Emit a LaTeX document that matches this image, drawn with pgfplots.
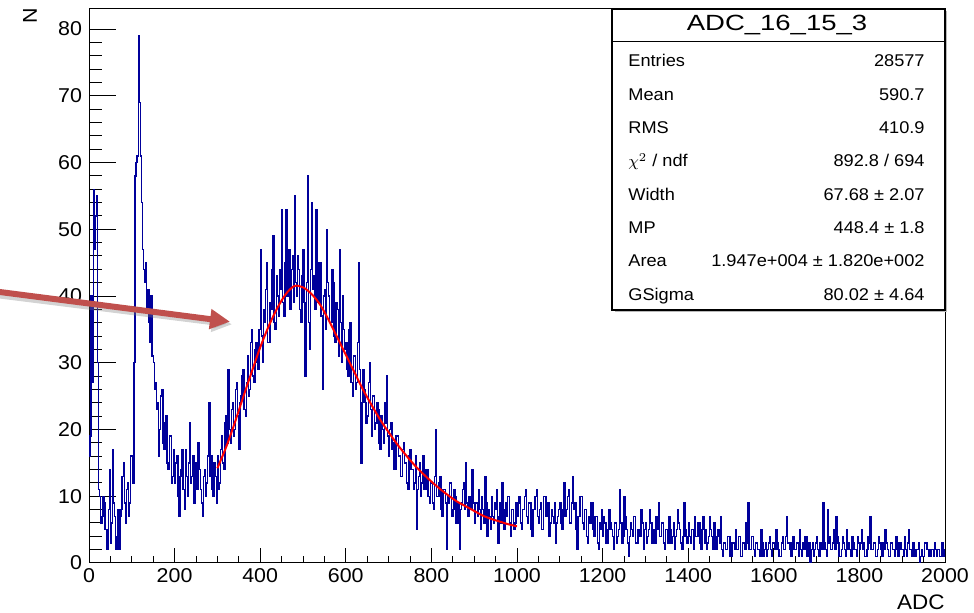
\documentclass[border=0pt]{standalone}
\usepackage{pgfplots}
\pgfplotsset{compat=1.18}
\usepackage{pgfplotstable}
\usepackage{fontspec}
\setmainfont[FakeStretch=1.07]{Liberation Sans}
\newfontfamily\titlefont[FakeStretch=1.25]{Liberation Sans}
\usetikzlibrary{arrows.meta}
\definecolor{histblue}{RGB}{0,0,155}
\definecolor{arrowred}{RGB}{192,80,77}

% bin contents, 2.5 ADC per bin, starting at ADC 0
\pgfplotstableread[row sep=\\]{
y\\
16\\19\\40\\27\\56\\47\\52\\55\\30\\11\\10\\6\\7\\10\\9\\5\\5\\2\\8\\14\\3\\6\\17\\9\\7\\2\\4\\8\\2\\7\\8\\13\\15\\9\\6\\11\\12\\7\\9\\16\\
16\\12\\30\\58\\60\\61\\79\\69\\61\\54\\47\\44\\42\\45\\38\\41\\36\\33\\40\\31\\30\\26\\27\\23\\24\\16\\20\\25\\26\\18\\17\\21\\22\\15\\14\\19\\19\\12\\13\\17\\
12\\15\\16\\10\\7\\13\\14\\17\\11\\8\\17\\13\\10\\15\\21\\12\\13\\16\\9\\14\\15\\11\\18\\14\\11\\9\\7\\13\\14\\10\\12\\16\\24\\13\\16\\11\\10\\15\\13\\9\\
16\\11\\12\\17\\19\\15\\14\\21\\22\\18\\29\\20\\18\\23\\24\\19\\20\\26\\27\\22\\17\\24\\25\\28\\29\\23\\22\\27\\31\\25\\26\\33\\35\\28\\27\\32\\33\\30\\29\\35\\
47\\34\\30\\38\\36\\41\\45\\33\\33\\39\\38\\44\\49\\36\\35\\43\\40\\37\\44\\41\\53\\39\\37\\45\\53\\40\\42\\47\\38\\44\\46\\39\\55\\42\\40\\46\\44\\38\\36\\43\\
47\\39\\28\\42\\58\\36\\32\\44\\54\\41\\43\\38\\53\\40\\39\\45\\45\\37\\26\\40\\41\\35\\50\\42\\40\\36\\36\\44\\42\\34\\33\\39\\38\\31\\47\\36\\30\\40\\35\\32\\
33\\29\\28\\35\\36\\27\\25\\31\\31\\26\\27\\33\\45\\29\\15\\24\\29\\26\\24\\21\\22\\27\\30\\23\\19\\25\\25\\20\\21\\24\\23\\18\\17\\22\\20\\18\\24\\21\\28\\19\\
16\\20\\21\\17\\18\\14\\14\\19\\19\\16\\16\\13\\13\\17\\18\\15\\15\\12\\11\\16\\17\\14\\14\\11\\12\\16\\5\\11\\13\\15\\10\\12\\16\\11\\11\\14\\14\\10\\9\\12\\
12\\9\\8\\13\\20\\10\\10\\12\\13\\8\\7\\11\\11\\9\\2\\10\\9\\12\\12\\7\\8\\11\\10\\6\\6\\9\\2\\8\\9\\11\\12\\8\\15\\9\\7\\10\\10\\8\\14\\9\\
6\\9\\9\\7\\11\\8\\5\\10\\8\\6\\13\\9\\4\\8\\7\\5\\10\\7\\6\\9\\8\\11\\3\\7\\9\\6\\12\\8\\5\\9\\7\\10\\10\\6\\4\\8\\8\\5\\6\\9\\
7\\9\\10\\6\\5\\8\\8\\10\\11\\7\\6\\9\\9\\5\\4\\8\\8\\10\\11\\7\\6\\8\\9\\5\\5\\10\\10\\7\\7\\9\\4\\6\\8\\7\\6\\9\\3\\6\\7\\8\\
9\\6\\5\\8\\12\\7\\8\\10\\11\\6\\6\\9\\13\\8\\9\\5\\2\\7\\7\\10\\10\\6\\5\\8\\8\\4\\3\\7\\6\\9\\9\\5\\4\\7\\7\\3\\2\\6\\5\\8\\
4\\7\\6\\3\\3\\5\\8\\6\\5\\4\\2\\6\\6\\3\\4\\5\\11\\6\\3\\4\\10\\7\\5\\3\\1\\4\\6\\5\\4\\7\\7\\3\\3\\5\\5\\4\\8\\6\\2\\5\\
6\\3\\4\\5\\8\\6\\3\\4\\5\\3\\7\\5\\9\\4\\4\\6\\6\\3\\2\\5\\5\\3\\7\\5\\3\\4\\6\\2\\4\\5\\8\\6\\5\\3\\2\\4\\9\\5\\4\\3\\
6\\4\\3\\5\\5\\2\\7\\4\\4\\6\\6\\3\\2\\5\\7\\3\\5\\2\\3\\4\\7\\5\\4\\2\\6\\3\\2\\4\\5\\3\\7\\2\\1\\3\\3\\2\\2\\4\\4\\1\\
1\\3\\3\\2\\5\\2\\2\\4\\4\\1\\1\\3\\3\\2\\6\\3\\9\\2\\2\\4\\4\\2\\1\\3\\3\\2\\2\\1\\5\\3\\1\\2\\3\\1\\2\\3\\4\\2\\1\\3\\
3\\2\\5\\3\\2\\1\\1\\3\\4\\2\\2\\4\\7\\3\\3\\2\\1\\3\\4\\2\\2\\3\\3\\1\\5\\2\\1\\3\\2\\4\\4\\1\\2\\3\\0\\2\\3\\1\\2\\3\\
4\\2\\1\\3\\3\\2\\9\\3\\2\\1\\8\\3\\4\\2\\2\\3\\5\\2\\7\\4\\3\\1\\1\\2\\4\\3\\2\\1\\5\\2\\3\\2\\1\\4\\3\\2\\2\\1\\4\\3\\
2\\3\\5\\2\\3\\1\\1\\2\\4\\3\\7\\2\\2\\3\\3\\1\\1\\2\\4\\3\\2\\1\\3\\2\\5\\3\\2\\1\\1\\3\\3\\2\\2\\1\\4\\2\\1\\3\\3\\2\\
2\\1\\4\\2\\1\\3\\5\\2\\2\\1\\3\\2\\1\\2\\2\\3\\0\\1\\2\\1\\1\\3\\3\\2\\2\\1\\1\\2\\2\\1\\3\\2\\1\\2\\2\\1\\1\\3\\2\\1\\
2\\
}\histtable

\begin{document}
\begin{tikzpicture}
\useasboundingbox (0,0) rectangle (487pt,306.5pt);
\begin{axis}[
  at={(44.5pt,25pt)}, anchor=south west,
  scale only axis, width=428pt, height=277pt,
  xmin=0, xmax=2000, ymin=0, ymax=83,
  xtick distance=200, ytick distance=10,
  minor x tick num=3, minor y tick num=4,
  xtick pos=lower, ytick pos=left,
  tick align=inside,
  axis line style={line width=0.5pt, black},
  every tick/.style={black, line width=0.5pt},
  xtick style={/pgfplots/major tick length=7.5pt, /pgfplots/minor tick length=3.5pt},
  ytick style={/pgfplots/major tick length=13.5pt, /pgfplots/minor tick length=6.5pt},
  /pgf/number format/assume math mode=true,
  /pgf/number format/1000 sep={},
  tick label style={font=\fontsize{10}{12}\selectfont},
  xticklabel style={yshift=1pt},
]
\addplot[const plot, histblue, line width=0.7pt] table[x expr=\coordindex*2.5, y=y] {\histtable};
\addplot[red, line width=1pt, smooth] coordinates {
(300,14.2) (320,17.3) (340,20.9) (360,24.8) (380,28.6) (400,32.3) (420,35.5) (440,38.2)
(460,40.3) (480,41.5) (500,41.3) (520,40.3) (540,38.7) (560,36.4) (580,33.8) (600,31.2)
(620,28.6) (640,26.0) (660,23.7) (680,21.5) (700,19.6) (720,17.8) (740,16.2) (760,14.7)
(780,13.4) (800,12.2) (820,11.1) (840,10.1) (860,9.2) (880,8.5) (900,7.8) (920,7.1)
(940,6.6) (960,6.2) (980,5.8) (1000,5.5)
};
\end{axis}
% axis titles
\node[rotate=90, inner sep=0, font=\fontsize{10}{12}\selectfont] at (15pt,298.5pt) {N};
\node[anchor=base east, inner sep=0, font=\fontsize{10.5}{12}\selectfont] at (472.5pt,1.5pt) {ADC};
% stats box
\fill[gray!55] (307.3pt,150.5pt) rectangle (473.3pt,301pt);
\draw[line width=0.6pt, fill=white] (306pt,151.5pt) rectangle (472.5pt,302pt);
\draw[line width=0.6pt] (306pt,285.6pt) -- (472.5pt,285.6pt);
\node[anchor=base, inner sep=0, font=\titlefont\fontsize{11}{13}\selectfont] at (388.5pt,291.3pt) {ADC\_16\_15\_3};
\begin{scope}[every node/.style={inner sep=0, font=\fontsize{8.5}{10}\selectfont}]
\node[anchor=base west] at (314pt,273.05pt) {Entries};
\node[anchor=base east] at (462.5pt,273.05pt) {28577};
\node[anchor=base west] at (314pt,256.4pt) {Mean};
\node[anchor=base east] at (462.5pt,256.4pt) {590.7};
\node[anchor=base west] at (314pt,239.7pt) {RMS};
\node[anchor=base east] at (462.5pt,239.7pt) {410.9};
\node[anchor=base west] at (314pt,223.05pt) {$\chi^{2}$ / ndf};
\node[anchor=base east] at (462.5pt,223.05pt) {892.8 / 694};
\node[anchor=base west] at (314pt,206.4pt) {Width};
\node[anchor=base east] at (462.5pt,206.4pt) {67.68 ± 2.07};
\node[anchor=base west] at (314pt,189.7pt) {MP};
\node[anchor=base east] at (462.5pt,189.7pt) {448.4 ± 1.8};
\node[anchor=base west] at (314pt,173.05pt) {Area};
\node[anchor=base east] at (462.5pt,173.05pt) {1.947e+004 ± 1.820e+002};
\node[anchor=base west] at (314pt,156.4pt) {GSigma};
\node[anchor=base east] at (462.5pt,156.4pt) {80.02 ± 4.64};
\end{scope}
% annotation arrow
\draw[gray, opacity=0.35, line width=3.2pt, -{Triangle[length=10pt,width=9.5pt]}] (-3pt,159.2pt) -- (116pt,144.3pt);
\draw[arrowred, line width=3pt, -{Triangle[length=10pt,width=9.5pt]}] (-4pt,161pt) -- (115pt,145.65pt);
\end{tikzpicture}
\end{document}
